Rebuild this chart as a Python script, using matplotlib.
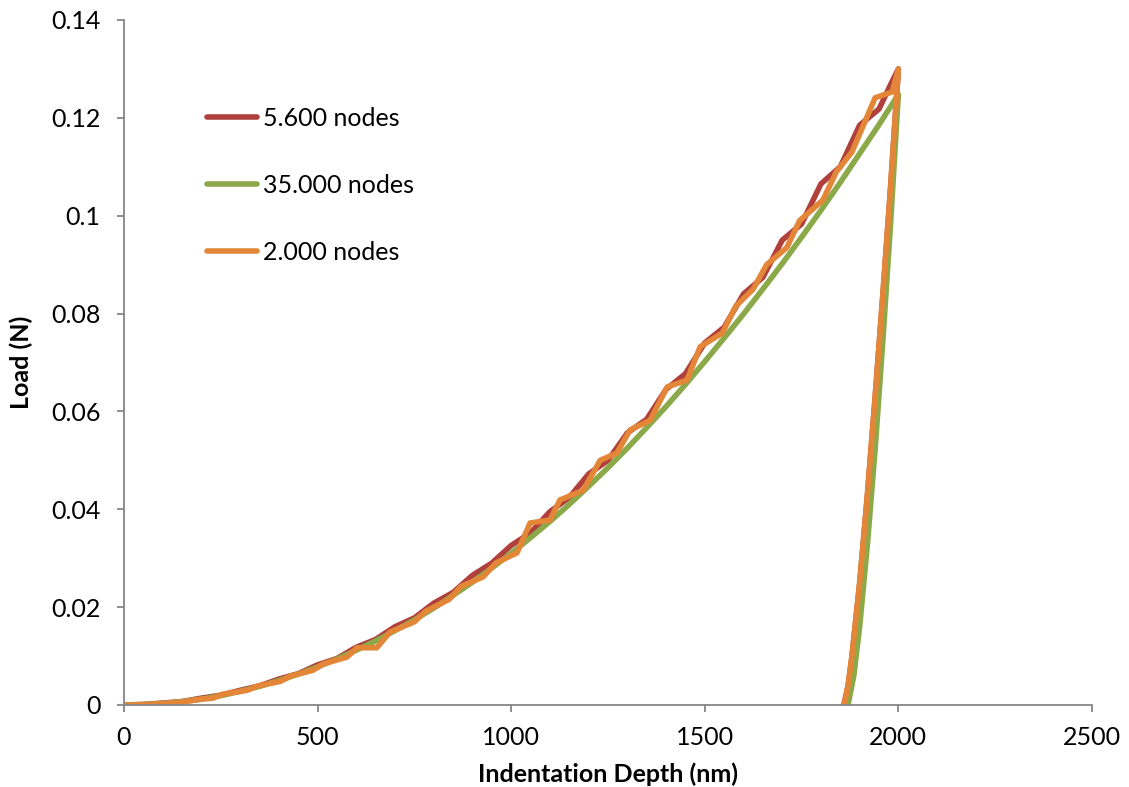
import numpy as np
import matplotlib
matplotlib.use("Agg")
import matplotlib.pyplot as plt
from matplotlib.ticker import FuncFormatter, MultipleLocator

plt.rcParams['font.family'] = ['Lato', 'DejaVu Sans']

# 35.000 nodes (smooth reference curve): loading then unloading
depth_35k = [0, 50, 100, 150, 200, 250, 300, 350, 400, 450, 500, 550, 600, 650,
             700, 750, 800, 850, 900, 950, 1000, 1050, 1100, 1150, 1200, 1250,
             1300, 1350, 1400, 1450, 1500, 1550, 1600, 1650, 1700, 1750, 1800,
             1850, 1900, 1950, 2000,
             1980, 1960, 1940, 1920, 1900, 1885, 1870]
load_35k = [0.0, 0.0001, 0.0003, 0.0007, 0.0012, 0.0019, 0.0028, 0.0038, 0.0050,
            0.0063, 0.0078, 0.0094, 0.0112, 0.0131, 0.0152, 0.0174, 0.0198,
            0.0224, 0.0251, 0.0280, 0.0310, 0.0342, 0.0375, 0.0410, 0.0447,
            0.0485, 0.0525, 0.0567, 0.0610, 0.0655, 0.0702, 0.0750, 0.0799,
            0.0850, 0.0902, 0.0956, 0.1011, 0.1068, 0.1127, 0.1186, 0.1248,
            0.0985, 0.0745, 0.0523, 0.0327, 0.0160, 0.0060, 0.0]

# 5.600 nodes
depth_5600 = [0, 50, 100, 150, 200, 250, 300, 350, 400, 450, 500, 550, 600, 650,
              700, 750, 800, 850, 900, 950, 1000, 1050, 1100, 1150, 1200, 1250,
              1300, 1350, 1400, 1450, 1500, 1550, 1600, 1650, 1700, 1750, 1800,
              1850, 1900, 1950, 1980, 2000,
              1980, 1960, 1940, 1920, 1900, 1880, 1870, 1859]
load_5600 = [0.0, 0.0001, 0.0004, 0.0007, 0.0014, 0.0020, 0.0030, 0.0039, 0.0053,
             0.0064, 0.0082, 0.0095, 0.0118, 0.0134, 0.0160, 0.0178, 0.0208,
             0.0230, 0.0265, 0.0290, 0.0326, 0.0352, 0.0395, 0.0424, 0.0472,
             0.0500, 0.0556, 0.0584, 0.0645, 0.0677, 0.0740, 0.0772, 0.0840,
             0.0874, 0.0950, 0.0983, 0.1065, 0.1100, 0.1185, 0.1218, 0.1268,
             0.1300,
             0.1058, 0.0838, 0.0628, 0.0428, 0.0248, 0.0098, 0.0038, 0.0]

# 2.000 nodes (coarse mesh, stepped loading)
depth_2000 = [0, 60, 120, 150, 200, 230, 255, 318, 345, 403, 430, 488, 515, 576,
              602, 653, 687, 750, 780, 840, 870, 928, 960, 1015, 1049, 1100, 1126,
              1186, 1230, 1273, 1307, 1359, 1403, 1454, 1488, 1545, 1580, 1625,
              1660, 1712, 1745, 1805, 1840, 1880, 1940, 1984, 2000,
              1980, 1960, 1940, 1920, 1900, 1880, 1870, 1860]
load_2000 = [0.0, 0.0001, 0.0004, 0.0006, 0.0012, 0.0014, 0.0022, 0.0030, 0.0039,
             0.0048, 0.0059, 0.0071, 0.0084, 0.0098, 0.0117, 0.0117, 0.0149,
             0.0170, 0.0192, 0.0216, 0.0242, 0.0262, 0.0290, 0.0311, 0.0372,
             0.0378, 0.0419, 0.0439, 0.0500, 0.0515, 0.0562, 0.0582, 0.0650,
             0.0664, 0.0732, 0.0760, 0.0815, 0.0850, 0.0900, 0.0935, 0.0990,
             0.1032, 0.1090, 0.1130, 0.1241, 0.1253, 0.1300,
             0.1060, 0.0840, 0.0630, 0.0430, 0.0250, 0.0100, 0.0040, 0.0]

fig = plt.figure(figsize=(11.29, 7.87), dpi=100)
ax = fig.add_axes([0.1098, 0.1042, 0.8574, 0.8704])

lw = 4.0
style = dict(lw=lw, solid_capstyle='round', solid_joinstyle='round')
ax.plot(depth_5600, load_5600, color='#B0403C', label='5.600 nodes', **style)
ax.plot(depth_35k, load_35k, color='#8CA94A', label='35.000 nodes', **style)
ax.plot(depth_2000, load_2000, color='#E48638', label='2.000 nodes', **style)

ax.set_xlim(0, 2500)
ax.set_ylim(0, 0.14)
ax.xaxis.set_major_locator(MultipleLocator(500))
ax.yaxis.set_major_locator(MultipleLocator(0.02))
ax.yaxis.set_major_formatter(FuncFormatter(lambda v, p: '%g' % round(v, 2)))

for s in ['top', 'right']:
    ax.spines[s].set_visible(False)
for s in ['left', 'bottom']:
    ax.spines[s].set_color('#868686')
    ax.spines[s].set_linewidth(1.3)
ax.tick_params(direction='out', length=5, width=1.3, color='#868686',
               labelsize=18)
ax.tick_params(axis='y', pad=12)
ax.tick_params(axis='x', pad=10)

ax.set_xlabel('Indentation Depth (nm)', fontsize=18, fontweight='bold', labelpad=10)
ax.set_ylabel('Load (N)', fontsize=18, fontweight='bold', labelpad=13)

ax.legend(loc='upper left', bbox_to_anchor=(0.1834, 0.864),
          bbox_transform=fig.transFigure, frameon=False, fontsize=18,
          handlelength=2.0, handletextpad=0.25, labelspacing=1.75,
          borderpad=0, borderaxespad=0)

fig.savefig('out.png', dpi=100)
